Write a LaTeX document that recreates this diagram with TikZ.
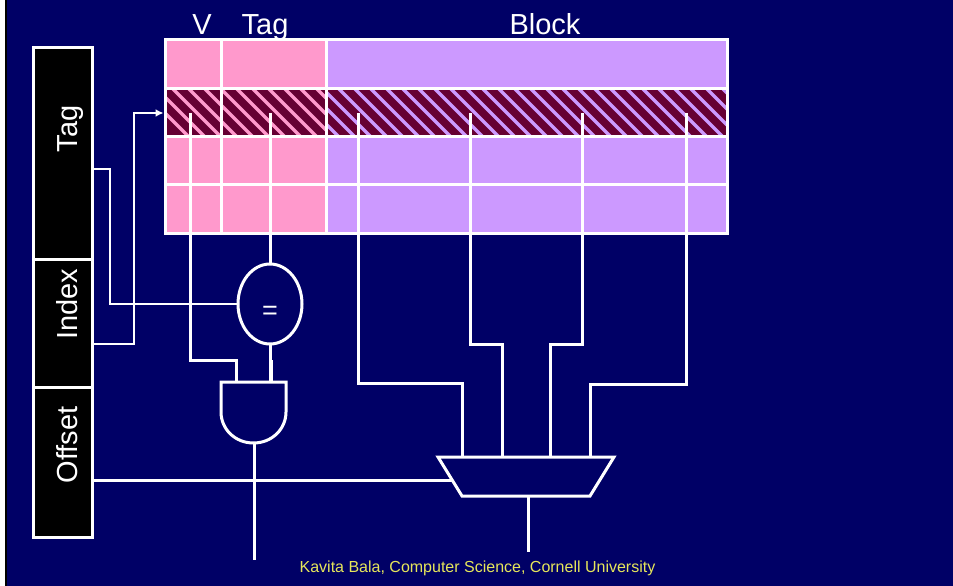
\documentclass[tikz,border=0pt]{standalone}
\usepackage{fontspec}
\setmainfont{Liberation Sans}
\usetikzlibrary{shapes.geometric,arrows.meta}
\definecolor{navybg}{HTML}{000066}
\definecolor{pinkc}{HTML}{FF99CC}
\definecolor{purplec}{HTML}{CC99FF}
\definecolor{maroonc}{HTML}{660033}
\definecolor{footc}{HTML}{E6E65A}
\tikzset{
  wire/.style={draw=white,line width=3pt,line join=miter},
  grid/.style={draw=white,line width=3pt},
  regbox/.style={draw=white,fill=black,line width=3pt,minimum width=59pt,inner sep=0pt,outer sep=0pt},
  big/.style={text=white,font=\fontsize{29}{32}\selectfont,inner sep=0pt,anchor=base},
  regtext/.style={big,rotate=90},
  hatchline/.style={line width=3.4pt}
}
\begin{document}
\begin{tikzpicture}[x=1pt,y=-1pt]
\useasboundingbox (0,0) rectangle (953,586);
\fill[white] (0,0) rectangle (953,586);
\fill[black] (5,0) rectangle (953,586);
\fill[navybg] (6.5,0) rectangle (953,586);

% table fills
\fill[pinkc] (165,40) rectangle (326,233);
\fill[purplec] (326,40) rectangle (727,233);
\fill[maroonc] (165,88) rectangle (727,136);
\begin{scope}
  \clip (165,88) rectangle (326,136);
  \foreach \i in {0,...,15} \draw[pinkc,hatchline] (130+16*\i,78) -- (190+16*\i,138);
\end{scope}
\begin{scope}
  \clip (326,88) rectangle (727,136);
  \foreach \i in {0,...,31} \draw[purplec,hatchline] (280+16*\i,78) -- (340+16*\i,138);
\end{scope}
% table grid
\draw[grid] (165,40) rectangle (727,233);
\draw[grid] (165,88) -- (727,88) (165,136) -- (727,136) (165,184) -- (727,184);
\draw[grid] (221.5,39) -- (221.5,233) (326,40) -- (326,233);

% labels
\node[big] (lv) at (202,35) {V};
\node[big] (ltag) at (265,35) {Tag};
\node[big] (lblock) at (545,35) {Block};

% register
\node[regbox,minimum height=211pt] (rtag) at (62.5,153.5) {};
\node[regbox,minimum height=128pt] (rindex) at (62.5,323) {};
\node[regbox,minimum height=150pt] (roffset) at (62.5,462) {};
\node[regtext] (ttag) at (77,129) {Tag};
\node[regtext] (tindex) at (77.5,304.5) {Index};
\node[regtext] (toffset) at (77.5,445) {Offset};

% comparator
\node[draw=white,line width=3pt,shape=ellipse,minimum width=64pt,minimum height=80pt,inner sep=0pt,outer sep=0pt] (eq) at (270,304) {};
\node[text=white,font=\fontsize{27}{30}\selectfont,inner sep=0pt] (eqsign) at (270,313) {=};

% AND gate
\draw[wire] (221,382) -- (286,382) -- (286,412) .. controls (286,429) and (272,443) .. (253.5,443) .. controls (235,443) and (221,429) .. (221,412) -- cycle;
\coordinate (andin1) at (236,382);
\coordinate (andin2) at (271,382);
\coordinate (andout) at (254.5,443);

% mux
\draw[wire] (438,457) -- (614,457) -- (590,496) -- (462,496) -- cycle;
\coordinate (muxsel) at (452,480);
\coordinate (muxout) at (528,496);
\coordinate (m1) at (462,457);
\coordinate (m2) at (502,457);
\coordinate (m3) at (550,457);
\coordinate (m4) at (590,457);

% free ends
\coordinate (tagout) at (92,169);
\coordinate (indexout) at (92,344);
\coordinate (offsetout) at (92,480);
\coordinate (rowin) at (163.5,113);
\coordinate (vtap) at (190,113);
\coordinate (ttap) at (270,113);
\coordinate (b1) at (358,113);
\coordinate (b2) at (470,113);
\coordinate (b3) at (582,113);
\coordinate (b4) at (686,113);
\coordinate (hitend) at (254,560);
\coordinate (dataend) at (528,552);

% wires
\draw[wire,line width=2.6pt] (tagout) -- (110,169) -- (110,304) -- (eq.west);
\draw[wire,line width=2.6pt,-{Latex[length=8pt,width=8pt]}] (indexout) -- (134,344) -- (134,113) -- (rowin);
\draw[wire] (vtap) -- (190,360) -- (236,360) -- (andin1);
\draw[wire] (ttap) -- (eq.north);
\draw[wire] (eq.south) -- (270,361);
\draw[wire,line width=3.6pt] (271,360) -- (andin2);
\draw[wire,line width=3.4pt] (andout) -- (254.5,465);
\draw[wire] (254,464) -- (hitend);
\draw[wire] (offsetout) -- (muxsel);
\draw[wire] (muxout) -- (dataend);
\draw[wire] (b1) -- (358,383) -- (462,383) -- (m1);
\draw[wire] (b2) -- (470,344) -- (502,344) -- (m2);
\draw[wire] (b3) -- (582,344) -- (550,344) -- (m3);
\draw[wire] (b4) -- (686,384) -- (590,384) -- (m4);

% footer
\node[text=footc,font=\fontsize{16}{18}\selectfont,inner sep=0pt,anchor=base] (foot) at (477.5,572.5) {Kavita Bala, Computer Science, Cornell University};
\end{tikzpicture}
\end{document}
